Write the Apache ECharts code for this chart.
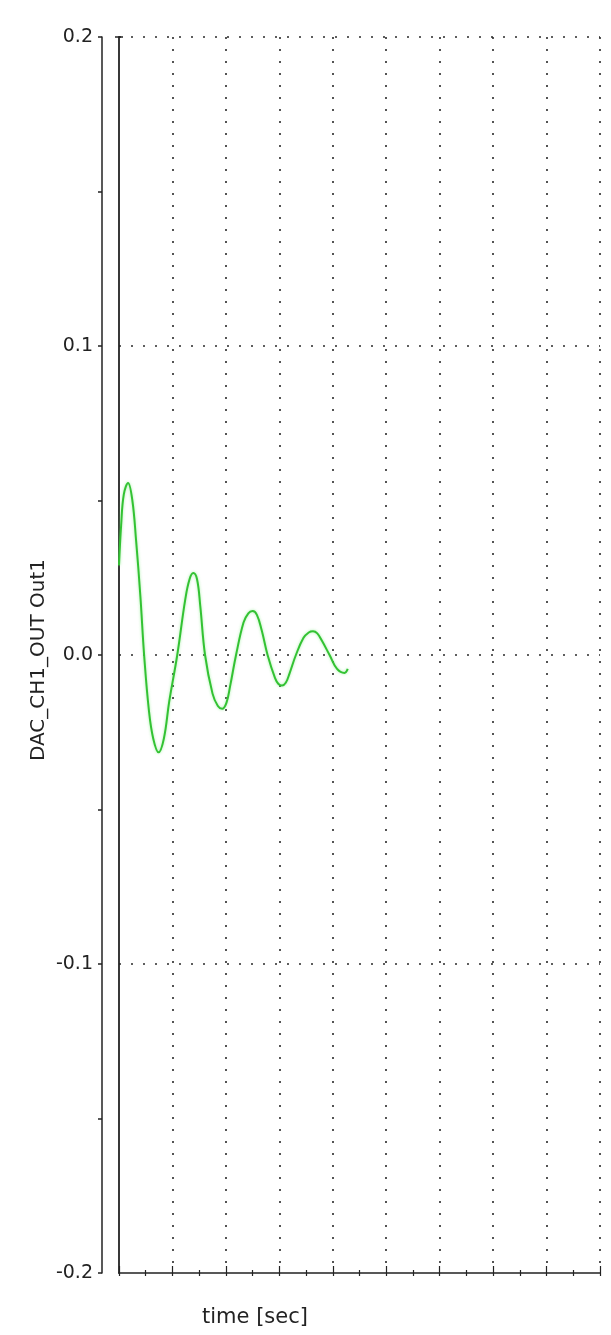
<!DOCTYPE html>
<html>
<head>
<meta charset="utf-8">
<script src="https://cdn.jsdelivr.net/npm/echarts@6/dist/echarts.min.js"></script>
<style>
html,body{margin:0;padding:0;background:#fff;}
#chart{width:611px;height:1335px;}
</style>
</head>
<body>
<div id="chart"></div>
<script>
// Values
var timeSec = [0.00, 0.04, 0.09, 0.17, 0.25, 0.32, 0.40, 0.47, 0.56, 0.64, 0.74, 0.84, 0.94, 1.09, 1.24, 1.32, 1.39, 1.46, 1.52, 1.61, 1.75, 1.85, 1.93, 2.01, 2.08, 2.19, 2.33, 2.42, 2.50, 2.58, 2.67, 2.78, 2.92, 2.98, 3.05, 3.12, 3.19, 3.31, 3.45, 3.55, 3.63, 3.71, 3.80, 3.94, 4.08, 4.22, 4.28];
var out1    = [0.029, 0.042, 0.052, 0.0557, 0.050, 0.037, 0.019, 0.000, -0.018, -0.027, -0.0315, -0.027, -0.015, 0.000, 0.018, 0.0245, 0.0265, 0.0245, 0.016, 0.000, -0.0125, -0.0165, -0.0174, -0.0155, -0.010, 0.000, 0.0105, 0.0135, 0.0142, 0.013, 0.008, 0.000, -0.0075, -0.0093, -0.0099, -0.009, -0.006, 0.000, 0.0055, 0.0073, 0.0077, 0.007, 0.0045, 0.000, -0.0045, -0.0058, -0.0045];
var yTicks = [-0.2, -0.1, 0.0, 0.1, 0.2];
var xRange = [0, 9];
var yLabel = 'DAC_CH1_OUT Out1';
var xLabel = 'time [sec]';

var seriesData = timeSec.map(function (t, i) { return [t, out1[i]]; });
var dotted = { type: [2, 10], color: '#2a2a2a', width: 1.6 };
var font = 'DejaVu Sans';

var chart = echarts.init(document.getElementById('chart'), null, { renderer: 'canvas' });
chart.setOption({
  backgroundColor: '#ffffff',
  animation: false,
  grid: { left: 119, right: 11, top: 37, bottom: 62, containLabel: false },
  xAxis: [{
    type: 'value', position: 'bottom', min: xRange[0], max: xRange[1], interval: 1,
    axisLine: { show: true, onZero: false, lineStyle: { color: '#222', width: 1.5 } },
    axisTick: { show: true, inside: true, length: 7, lineStyle: { color: '#222', width: 1.2 } },
    minorTick: { show: true, splitNumber: 2, length: 3, lineStyle: { color: '#222', width: 1.2 } },
    axisLabel: { show: false },
    splitLine: { show: true, showMinLine: false, showMaxLine: true, lineStyle: dotted }
  }, {
    type: 'value', position: 'bottom', min: xRange[0], max: xRange[1], interval: 1,
    axisLine: { show: false, onZero: false },
    axisTick: { show: true, inside: false, length: 3, lineStyle: { color: '#222', width: 1.2 } },
    minorTick: { show: true, splitNumber: 2, length: 3, lineStyle: { color: '#222', width: 1.2 } },
    axisLabel: { show: false },
    splitLine: { show: false }
  }],
  yAxis: [{
    type: 'value', position: 'left', offset: 17,
    min: yTicks[0], max: yTicks[yTicks.length - 1], interval: 0.1,
    axisLine: { show: true, onZero: false, lineStyle: { color: '#222', width: 1.5 } },
    axisTick: { show: true, inside: false, length: 4, lineStyle: { color: '#222', width: 1.5 } },
    minorTick: { show: true, splitNumber: 2, length: 4, lineStyle: { color: '#222', width: 1.5 } },
    axisLabel: {
      margin: 9, color: '#222', fontFamily: font, fontSize: 19,
      formatter: function (v) { return (Math.abs(v) < 1e-9 ? 0 : v).toFixed(1); }
    },
    splitLine: { show: true, showMinLine: false, showMaxLine: true, lineStyle: dotted }
  }, {
    type: 'value', position: 'left', offset: 0,
    min: yTicks[0], max: yTicks[yTicks.length - 1], interval: 0.1,
    axisLine: { show: true, onZero: false, symbol: ['none', 'rect'], symbolSize: [8, 1.5], lineStyle: { color: '#222', width: 1.8 } },
    axisTick: { show: false },
    axisLabel: { show: false },
    splitLine: { show: false }
  }],
  graphic: [{
    type: 'text', x: 39, y: 660, rotation: Math.PI / 2,
    style: { text: yLabel, fontFamily: font, fontSize: 20, fill: '#222', align: 'center', verticalAlign: 'middle' }
  }, {
    type: 'text', x: 255, y: 1318,
    style: { text: xLabel, fontFamily: font, fontSize: 21, fill: '#222', align: 'center', verticalAlign: 'middle' }
  }],
  series: [{
    type: 'line', xAxisIndex: 0, yAxisIndex: 0,
    data: seriesData, showSymbol: false, smooth: 0.4,
    lineStyle: { color: '#33c233', width: 2, shadowColor: 'rgba(110,230,110,0.6)', shadowBlur: 3 }
  }]
});
</script>
</body>
</html>
